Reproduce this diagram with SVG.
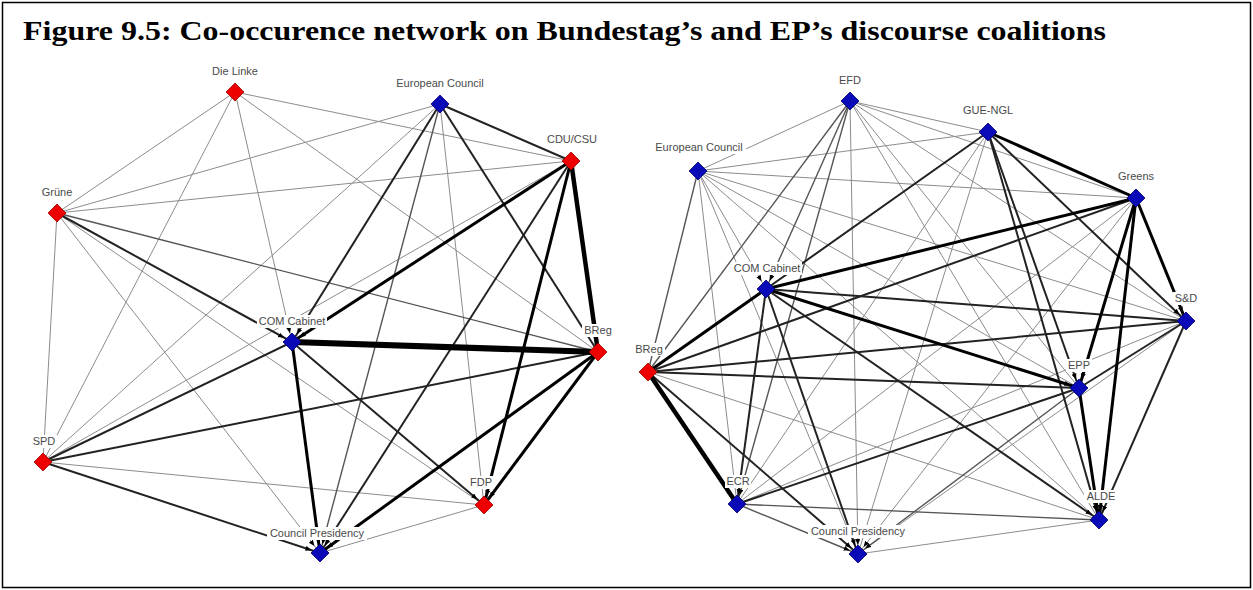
<svg xmlns="http://www.w3.org/2000/svg" width="1253" height="590" viewBox="0 0 1253 590">
<style>
line{fill:none;stroke-linecap:butt}
.e1{stroke:#8c8c8c;stroke-width:1}
.e2{stroke:#555;stroke-width:1.4}
.e3{stroke:#222;stroke-width:2}
.e4{stroke:#000;stroke-width:3}
.e5{stroke:#000;stroke-width:4.5}
.e6{stroke:#000;stroke-width:6}
.a{marker-end:url(#arr)}
.red{fill:#ee0000;stroke:#a00000;stroke-width:0.8}
.blue{fill:#0a0ab8;stroke:#000070;stroke-width:0.8}
.lb{fill:#fff}
.lbl{font-family:"Liberation Sans",Arial,sans-serif;font-size:11px;fill:#4a4a4a;text-anchor:middle}
.title{font-family:"Liberation Serif","Times New Roman",serif;font-size:27px;font-weight:bold;fill:#000}
</style>
<defs>
<path id="dia" d="M0,-9 L9,0 L0,9 L-9,0 Z"/>
<marker id="arr" markerUnits="userSpaceOnUse" markerWidth="20" markerHeight="10" refX="15" refY="2.5" orient="auto">
<path d="M0,0 L6,2.5 L0,5 Z" fill="#000"/>
</marker>
</defs>
<rect x="2.5" y="2.5" width="1248" height="585" fill="#fff" stroke="#000" stroke-width="1.5"/>
<text class="title" x="23" y="40" textLength="1083" lengthAdjust="spacingAndGlyphs">Figure 9.5: Co-occurence network on Bundestag’s and EP’s discourse coalitions</text>

<g id="connectors">
<g id="connectors-bundestag">
<line class="e1" x1="235" y1="92" x2="57" y2="213"/>
<line class="e1" x1="235" y1="92" x2="43" y2="462"/>
<line class="e1 a" x1="235" y1="92" x2="292" y2="342"/>
<line class="e1" x1="235" y1="92" x2="598" y2="352"/>
<line class="e1" x1="235" y1="92" x2="571" y2="161"/>
<line class="e1" x1="57" y1="213" x2="440" y2="104"/>
<line class="e1" x1="57" y1="213" x2="571" y2="161"/>
<line class="e1" x1="57" y1="213" x2="484" y2="505"/>
<line class="e1 a" x1="57" y1="213" x2="320" y2="553"/>
<line class="e1" x1="57" y1="213" x2="43" y2="462"/>
<line class="e1" x1="440" y1="104" x2="484" y2="505"/>
<line class="e1" x1="440" y1="104" x2="43" y2="462"/>
<line class="e1" x1="571" y1="161" x2="43" y2="462"/>
<line class="e1" x1="43" y1="462" x2="484" y2="505"/>
<line class="e1" x1="484" y1="505" x2="320" y2="553"/>
<line class="e2" x1="57" y1="213" x2="598" y2="352"/>
<line class="e2 a" x1="440" y1="104" x2="320" y2="553"/>
<line class="e3 a" x1="57" y1="213" x2="292" y2="342"/>
<line class="e3" x1="440" y1="104" x2="571" y2="161"/>
<line class="e3 a" x1="440" y1="104" x2="292" y2="342"/>
<line class="e3" x1="440" y1="104" x2="598" y2="352"/>
<line class="e3 a" x1="571" y1="161" x2="320" y2="553"/>
<line class="e3" x1="43" y1="462" x2="292" y2="342"/>
<line class="e3 a" x1="292" y1="342" x2="484" y2="505"/>
<line class="e3" x1="43" y1="462" x2="598" y2="352"/>
<line class="e3 a" x1="43" y1="462" x2="320" y2="553"/>
<line class="e4 a" x1="571" y1="161" x2="292" y2="342"/>
<line class="e4 a" x1="571" y1="161" x2="484" y2="505"/>
<line class="e4 a" x1="292" y1="342" x2="320" y2="553"/>
<line class="e4 a" x1="598" y1="352" x2="484" y2="505"/>
<line class="e4 a" x1="598" y1="352" x2="320" y2="553"/>
<line class="e5 a" x1="571" y1="161" x2="598" y2="352"/>
<line class="e6" x1="292" y1="342" x2="598" y2="352"/>
</g>
<g id="connectors-ep">
<line class="e1" x1="850" y1="101" x2="698" y2="171"/>
<line class="e1" x1="850" y1="101" x2="988" y2="132"/>
<line class="e1" x1="850" y1="101" x2="1136" y2="198"/>
<line class="e1" x1="850" y1="101" x2="1186" y2="321"/>
<line class="e1" x1="850" y1="101" x2="1079" y2="388"/>
<line class="e1" x1="850" y1="101" x2="1099" y2="520"/>
<line class="e1 a" x1="850" y1="101" x2="858" y2="554"/>
<line class="e1" x1="988" y1="132" x2="698" y2="171"/>
<line class="e1" x1="988" y1="132" x2="648" y2="372"/>
<line class="e1" x1="988" y1="132" x2="737" y2="504"/>
<line class="e1" x1="988" y1="132" x2="858" y2="554"/>
<line class="e1" x1="698" y1="171" x2="1136" y2="198"/>
<line class="e1" x1="698" y1="171" x2="1186" y2="321"/>
<line class="e1" x1="698" y1="171" x2="1079" y2="388"/>
<line class="e1" x1="698" y1="171" x2="1099" y2="520"/>
<line class="e1" x1="698" y1="171" x2="858" y2="554"/>
<line class="e1" x1="698" y1="171" x2="737" y2="504"/>
<line class="e1 a" x1="698" y1="171" x2="766" y2="289"/>
<line class="e1" x1="1136" y1="198" x2="737" y2="504"/>
<line class="e1 a" x1="1136" y1="198" x2="858" y2="554"/>
<line class="e1" x1="1186" y1="321" x2="737" y2="504"/>
<line class="e1" x1="1186" y1="321" x2="858" y2="554"/>
<line class="e1" x1="648" y1="372" x2="1099" y2="520"/>
<line class="e1" x1="1099" y1="520" x2="858" y2="554"/>
<line class="e2 a" x1="850" y1="101" x2="737" y2="504"/>
<line class="e2" x1="850" y1="101" x2="648" y2="372"/>
<line class="e2 a" x1="850" y1="101" x2="766" y2="289"/>
<line class="e2" x1="698" y1="171" x2="648" y2="372"/>
<line class="e2 a" x1="1079" y1="388" x2="858" y2="554"/>
<line class="e2" x1="737" y1="504" x2="1099" y2="520"/>
<line class="e2 a" x1="737" y1="504" x2="858" y2="554"/>
<line class="e3 a" x1="988" y1="132" x2="1186" y2="321"/>
<line class="e3 a" x1="988" y1="132" x2="1079" y2="388"/>
<line class="e3 a" x1="988" y1="132" x2="1099" y2="520"/>
<line class="e3" x1="988" y1="132" x2="766" y2="289"/>
<line class="e3" x1="1136" y1="198" x2="648" y2="372"/>
<line class="e3" x1="766" y1="289" x2="1186" y2="321"/>
<line class="e3 a" x1="766" y1="289" x2="1099" y2="520"/>
<line class="e3 a" x1="766" y1="289" x2="737" y2="504"/>
<line class="e3 a" x1="766" y1="289" x2="858" y2="554"/>
<line class="e3" x1="1186" y1="321" x2="648" y2="372"/>
<line class="e3" x1="1186" y1="321" x2="1079" y2="388"/>
<line class="e3 a" x1="1186" y1="321" x2="1099" y2="520"/>
<line class="e3" x1="648" y1="372" x2="1079" y2="388"/>
<line class="e3 a" x1="648" y1="372" x2="858" y2="554"/>
<line class="e3" x1="1079" y1="388" x2="737" y2="504"/>
<line class="e4" x1="988" y1="132" x2="1136" y2="198"/>
<line class="e4" x1="1136" y1="198" x2="766" y2="289"/>
<line class="e4 a" x1="1136" y1="198" x2="1186" y2="321"/>
<line class="e4 a" x1="1136" y1="198" x2="1079" y2="388"/>
<line class="e4 a" x1="1136" y1="198" x2="1099" y2="520"/>
<line class="e4 a" x1="766" y1="289" x2="1079" y2="388"/>
<line class="e4" x1="766" y1="289" x2="648" y2="372"/>
<line class="e4 a" x1="1079" y1="388" x2="1099" y2="520"/>
<line class="e5 a" x1="648" y1="372" x2="737" y2="504"/>
</g>
</g>

<g id="nodes-bundestag">
<g id="L-die-linke" transform="translate(235,92)"><use href="#dia" class="red"/><rect class="lb" x="-25" y="-27" width="50" height="13"/><text class="lbl" x="0" y="-17">Die Linke</text></g>
<g id="L-european-council" transform="translate(440,104)"><use href="#dia" class="blue"/><rect class="lb" x="-47" y="-27" width="94" height="13"/><text class="lbl" x="0" y="-17">European Council</text></g>
<g id="L-cdu-csu" transform="translate(571,161)"><use href="#dia" class="red"/><rect class="lb" x="-26" y="-28" width="54" height="13"/><text class="lbl" x="1" y="-18">CDU/CSU</text></g>
<g id="L-gruene" transform="translate(57,213)"><use href="#dia" class="red"/><rect class="lb" x="-17" y="-27" width="34" height="13"/><text class="lbl" x="0" y="-17">Grüne</text></g>
<g id="L-com-cabinet" transform="translate(292,342)"><use href="#dia" class="blue"/><rect class="lb" x="-35" y="-27" width="70" height="13"/><text class="lbl" x="0" y="-17">COM Cabinet</text></g>
<g id="L-breg" transform="translate(598,352)"><use href="#dia" class="red"/><rect class="lb" x="-16" y="-28" width="32" height="13"/><text class="lbl" x="0" y="-18">BReg</text></g>
<g id="L-spd" transform="translate(43,462)"><use href="#dia" class="red"/><rect class="lb" x="-12" y="-27" width="26" height="13"/><text class="lbl" x="1" y="-17">SPD</text></g>
<g id="L-fdp" transform="translate(484,505)"><use href="#dia" class="red"/><rect class="lb" x="-16" y="-29" width="26" height="13"/><text class="lbl" x="-3" y="-19">FDP</text></g>
<g id="L-council-presidency" transform="translate(320,553)"><use href="#dia" class="blue"/><rect class="lb" x="-53" y="-26" width="100" height="13"/><text class="lbl" x="-3" y="-16">Council Presidency</text></g>
</g>

<g id="nodes-ep">
<g id="R-efd" transform="translate(850,101)"><use href="#dia" class="blue"/><rect class="lb" x="-13" y="-27" width="26" height="13"/><text class="lbl" x="0" y="-17">EFD</text></g>
<g id="R-gue-ngl" transform="translate(988,132)"><use href="#dia" class="blue"/><rect class="lb" x="-27" y="-28" width="54" height="13"/><text class="lbl" x="0" y="-18">GUE-NGL</text></g>
<g id="R-european-council" transform="translate(698,171)"><use href="#dia" class="blue"/><rect class="lb" x="-46" y="-30" width="94" height="13"/><text class="lbl" x="1" y="-20">European Council</text></g>
<g id="R-greens" transform="translate(1136,198)"><use href="#dia" class="blue"/><rect class="lb" x="-20" y="-28" width="40" height="13"/><text class="lbl" x="0" y="-18">Greens</text></g>
<g id="R-com-cabinet" transform="translate(766,289)"><use href="#dia" class="blue"/><rect class="lb" x="-34" y="-27" width="70" height="13"/><text class="lbl" x="1" y="-17">COM Cabinet</text></g>
<g id="R-sd" transform="translate(1186,321)"><use href="#dia" class="blue"/><rect class="lb" x="-13" y="-29" width="26" height="13"/><text class="lbl" x="0" y="-19">S&amp;D</text></g>
<g id="R-breg" transform="translate(648,372)"><use href="#dia" class="red"/><rect class="lb" x="-15" y="-29" width="32" height="13"/><text class="lbl" x="1" y="-19">BReg</text></g>
<g id="R-epp" transform="translate(1079,388)"><use href="#dia" class="blue"/><rect class="lb" x="-13" y="-29" width="26" height="13"/><text class="lbl" x="0" y="-19">EPP</text></g>
<g id="R-ecr" transform="translate(737,504)"><use href="#dia" class="blue"/><rect class="lb" x="-12" y="-29" width="26" height="13"/><text class="lbl" x="1" y="-19">ECR</text></g>
<g id="R-alde" transform="translate(1099,520)"><use href="#dia" class="blue"/><rect class="lb" x="-15" y="-30" width="34" height="13"/><text class="lbl" x="2" y="-20">ALDE</text></g>
<g id="R-council-presidency" transform="translate(858,554)"><use href="#dia" class="blue"/><rect class="lb" x="-50" y="-29" width="100" height="13"/><text class="lbl" x="0" y="-19">Council Presidency</text></g>
</g>
</svg>
